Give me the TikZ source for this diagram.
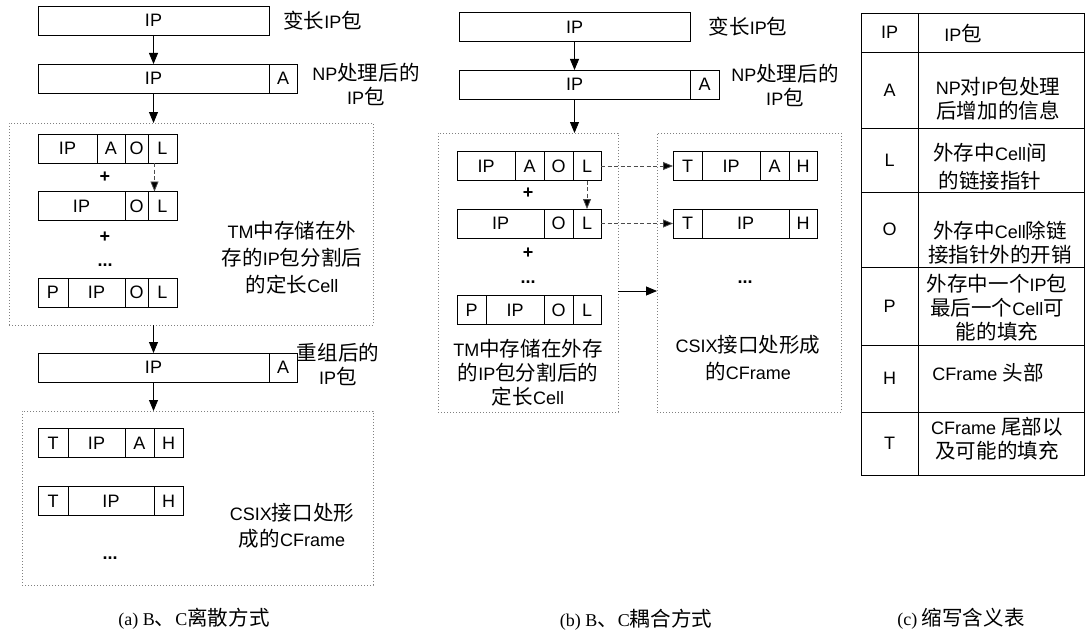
\documentclass[tikz,border=0pt]{standalone}
\usepackage{fontspec}
\setmainfont{Liberation Sans}
\newfontfamily\capfont{Liberation Serif}
\newfontfamily\cjk[Scale=1.14]{Noto Sans CJK SC}
\usetikzlibrary{arrows.meta}
\newcommand{\zh}[1]{{\cjk #1}}

\begin{document}
\begin{tikzpicture}[x=1pt,y=-1pt,
      every node/.style={font=\fontsize{18}{24}\selectfont,inner sep=0pt,outer sep=0pt},
      cell/.style={draw,line width=0.8pt,minimum height=29pt},
      zone/.style={draw=gray,line width=0.8pt,dash pattern=on 1pt off 2pt},
      arr/.style={line width=0.8pt,-{Triangle[length=11pt,width=9pt]}},
      darr/.style={draw=black!70,line width=0.8pt,dash pattern=on 4pt off 2.5pt,-{Triangle[length=10pt,width=8pt,fill=black]}},
      capt/.style={font=\capfont\fontsize{18}{22}\selectfont}]
  \useasboundingbox (0,0) rectangle (1086,634);
  % (a)
  \node[cell,minimum width=231] (a1) at (153.5,20.5) {IP};
  \node (a1t) at (322.5,21) {\zh{变长}IP\zh{包}};
  \node[cell,minimum width=231] (a2ip) at (153.5,78.5) {IP};
  \node[cell,minimum width=28] (a2a) at (283,78.5) {A};
  \node[align=center] (a2t) at (366,84) {NP\zh{处理后的}\\IP\zh{包}};
  \node[zone,minimum width=364,minimum height=202] (a3) at (191,224) {};
  \foreach \n/\xa/\xb/\t in {ip/38/97/IP,a/97/125/A,o/125/148/O,l/148/177/L}
    \node[cell,minimum width={(\xb-\xa)*1pt}] (ar1\n) at ({(\xa+\xb)/2},148.5) {\t};
  \foreach \n/\xa/\xb/\t in {ip/38/125/IP,o/125/148/O,l/148/177/L}
    \node[cell,minimum width={(\xb-\xa)*1pt}] (ar2\n) at ({(\xa+\xb)/2},206) {\t};
  \foreach \n/\xa/\xb/\t in {p/38/68/P,ip/68/125/IP,o/125/148/O,l/148/177/L}
    \node[cell,minimum width={(\xb-\xa)*1pt}] (ar3\n) at ({(\xa+\xb)/2},292.5) {\t};
  \node (aplus1) at (105,177) {\textbf{+}};
  \node (aplus2) at (105,237) {\textbf{+}};
  \node (adots) at (105,265) {\textbf{...}};
  \node[align=center] (a3t) at (292,258) {TM\zh{中存储在外}\\[3pt]\zh{存的}IP\zh{包分割后}\\[3pt]\zh{的定长}Cell};
  \node[cell,minimum width=231] (a4ip) at (153.5,367.5) {IP};
  \node[cell,minimum width=28] (a4a) at (283,367.5) {A};
  \node[align=center] (a4t) at (338,364.5) {\zh{重组后的}\\IP\zh{包}};
  \node[zone,minimum width=351,minimum height=174] (a5) at (197.5,498) {};
  \foreach \n/\xa/\xb/\t in {t/38/68/T,ip/68/125/IP,a/125/154/A,h/154/183/H}
    \node[cell,minimum width={(\xb-\xa)*1pt}] (ar4\n) at ({(\xa+\xb)/2},443) {\t};
  \foreach \n/\xa/\xb/\t in {t/38/68/T,ip/68/154/IP,h/154/183/H}
    \node[cell,minimum width={(\xb-\xa)*1pt}] (ar5\n) at ({(\xa+\xb)/2},501) {\t};
  \node (adots2) at (110,558) {\textbf{...}};
  \node[align=center] (a5t) at (292,526) {CSIX\zh{接口处形}\\[2pt]\zh{成的}CFrame};
  \draw[arr] (a1.south) -- (a2ip.north);
  \draw[arr] (a2ip.south) -- (a2ip.south |- a3.north);
  \draw[darr] ([xshift=-8pt]ar1l.south) -- ([xshift=-8pt]ar2l.north);
  \draw[arr] (a4ip.north |- a3.south) -- (a4ip.north);
  \draw[arr] (a4ip.south) -- (a4ip.south |- a5.north);
  \node[capt] (capa) at (194,619) {(a) B\zh{、}C\zh{离散方式}};
  % (b)
  \node[cell,minimum width=231] (b1) at (574.5,27) {IP};
  \node (b1t) at (748,27) {\zh{变长}IP\zh{包}};
  \node[cell,minimum width=231] (b2ip) at (574.5,84.5) {IP};
  \node[cell,minimum width=29] (b2a) at (704.5,84.5) {A};
  \node[align=center] (b2t) at (785,85) {NP\zh{处理后的}\\IP\zh{包}};
  \node[zone,minimum width=180,minimum height=279] (bstore) at (528,272.5) {};
  \node[zone,minimum width=184,minimum height=279] (bframe) at (749,272.5) {};
  \foreach \n/\xa/\xb/\t in {ip/457/515/IP,a/515/544/A,o/544/573/O,l/573/601/L}
    \node[cell,minimum width={(\xb-\xa)*1pt}] (br1\n) at ({(\xa+\xb)/2},166) {\t};
  \foreach \n/\xa/\xb/\t in {ip/457/544/IP,o/544/573/O,l/573/601/L}
    \node[cell,minimum width={(\xb-\xa)*1pt}] (br2\n) at ({(\xa+\xb)/2},223.5) {\t};
  \foreach \n/\xa/\xb/\t in {p/457/486/P,ip/486/544/IP,o/544/573/O,l/573/601/L}
    \node[cell,minimum width={(\xb-\xa)*1pt}] (br3\n) at ({(\xa+\xb)/2},310) {\t};
  \foreach \n/\xa/\xb/\t in {t/673/702/T,ip/702/760/IP,a/760/789/A,h/789/817/H}
    \node[cell,minimum width={(\xb-\xa)*1pt}] (cr1\n) at ({(\xa+\xb)/2},166) {\t};
  \foreach \n/\xa/\xb/\t in {t/673/702/T,ip/702/789/IP,h/789/817/H}
    \node[cell,minimum width={(\xb-\xa)*1pt}] (cr2\n) at ({(\xa+\xb)/2},223.5) {\t};
  \node (bplus1) at (528,193) {\textbf{+}};
  \node (bplus2) at (528,253) {\textbf{+}};
  \node (bdots) at (528,282) {\textbf{...}};
  \node (cdots) at (745,282) {\textbf{...}};
  \node[align=center] (bstoret) at (528,373) {TM\zh{中存储在外存}\\\zh{的}IP\zh{包分割后的}\\\zh{定长}Cell};
  \node[align=center] (bframet) at (748,358.5) {CSIX\zh{接口处形成}\\[3pt]\zh{的}CFrame};
  \draw[arr] (b1.south) -- (b2ip.north);
  \draw[arr] (b2ip.south) -- (b2ip.south |- bstore.north);
  \draw[darr] (br1l.east) -- (cr1t.west);
  \draw[darr] (br2l.east) -- (cr2t.west);
  \draw[darr] (br1l.south) -- (br2l.north);
  \draw[arr] ([yshift=-18.5pt]bstore.east) -- ([yshift=-18.5pt]bframe.west);
  \node[capt] (capb) at (636,620) {(b) B\zh{、}C\zh{耦合方式}};
  % (c)
  \foreach \k/\ya/\yb in {IP/13/52,A/52/128,L/128/192,O/192/267,P/267/345,H/345/412,T/412/475}{
    \node[cell,minimum width=57,minimum height={(\yb-\ya)*1pt}] (k\k) at (889.5,{(\ya+\yb)/2}) {\k};
    \node[cell,minimum width=166,minimum height={(\yb-\ya)*1pt}] (d\k) at (1001,{(\ya+\yb)/2}) {};
  }
  \node (tIP) at (963,33) {IP\zh{包}};
  \node[align=center] (tA) at (998,98.5) {NP\zh{对}IP\zh{包处理}\\\zh{后增加的信息}};
  \node[align=center] (tL) at (990,167) {\zh{外存中}Cell\zh{间}\\[4pt]\zh{的链接指针}};
  \node[align=center] (tO) at (1000,242.5) {\zh{外存中}Cell\zh{除链}\\\zh{接指针外的开销}};
  \node[align=center] (tP) at (997,308) {\zh{外存中一个}IP\zh{包}\\\zh{最后一个}Cell\zh{可}\\\zh{能的填充}};
  \node (tH) at (988,373) {CFrame \zh{头部}};
  \node[align=center] (tT) at (997,438.5) {CFrame \zh{尾部以}\\\zh{及可能的填充}};
  \node[capt] (capc) at (961,619) {(c) \zh{缩写含义表}};
\end{tikzpicture}
\end{document}
